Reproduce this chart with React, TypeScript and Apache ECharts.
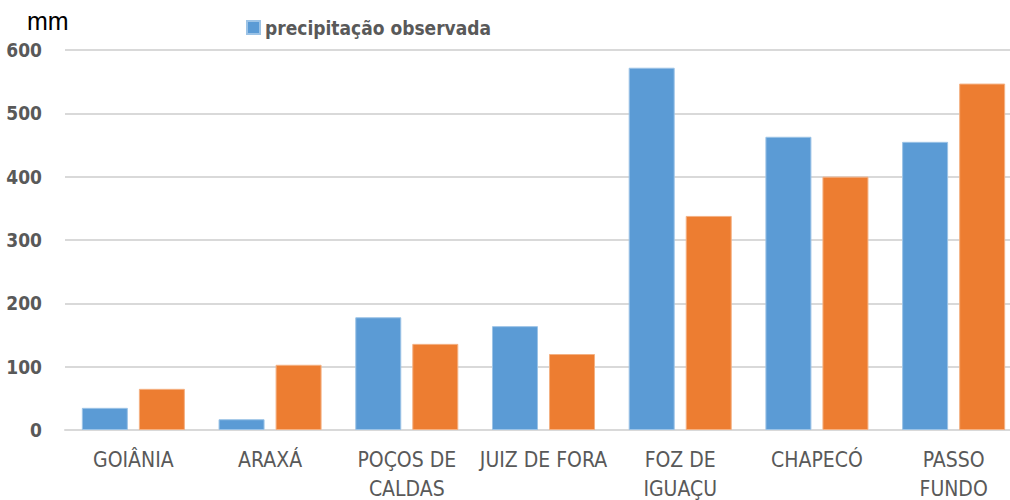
import React, { useEffect, useRef } from "react";
import * as echarts from "echarts";

const categories = ["GOIÂNIA", "ARAXÁ", "POÇOS DE\nCALDAS", "JUIZ DE FORA", "FOZ DE\nIGUAÇU", "CHAPECÓ", "PASSO\nFUNDO"];
const observada = [35, 17, 178, 164, 572, 463, 455];
const prevista = [65, 103, 136, 120, 338, 400, 547];
const yTicks = [0, 100, 200, 300, 400, 500, 600];

export default function App() {
  const ref = useRef<HTMLDivElement>(null);
  useEffect(() => {
    if (!ref.current) return;
    const chart = echarts.init(ref.current, null, { renderer: "svg" });
    const font = "'DejaVu Sans Condensed', 'Liberation Sans Narrow', 'Liberation Sans', sans-serif";
    chart.setOption({
      animation: false,
      grid: { left: 65, width: 957, top: 50, bottom: 70, outerBoundsMode: "none" },
      legend: {
        data: [{ name: "precipitação observada" }],
        left: 241,
        top: 13,
        itemWidth: 13,
        itemHeight: 13,
        itemGap: 5,
        icon: "rect",
        textStyle: { color: "#595959", fontSize: 19, fontWeight: "bold", fontFamily: font },
      },
      graphic: [
        { type: "text", left: 27, top: 8, style: { text: "mm", fontSize: 25, fill: "#000", fontFamily: "'Liberation Sans', Arial, sans-serif" } },
      ],
      xAxis: {
        type: "category",
        data: categories,
        axisLine: { lineStyle: { color: "#d9d9d9", width: 2 } },
        axisTick: { show: false },
        axisLabel: { color: "#595959", fontSize: 21, fontFamily: font, margin: 15, lineHeight: 29, interval: 0 },
      },
      yAxis: {
        type: "value",
        min: 0,
        max: 600,
        interval: 100,
        axisLine: { show: false },
        axisTick: { show: false },
        splitLine: { lineStyle: { color: "#d9d9d9", width: 2 } },
        axisLabel: {
          color: "#595959",
          fontSize: 19,
          fontWeight: "bold",
          fontFamily: font,
          margin: 23,
          customValues: yTicks,
        },
      },
      series: [
        {
          name: "precipitação observada",
          type: "bar",
          data: observada,
          barWidth: 46,
          barGap: "24%",
          itemStyle: { color: "#5B9BD5", borderColor: "#9cc3e6", borderWidth: 1 },
        },
        {
          name: "precipitação prevista",
          type: "bar",
          data: prevista,
          barWidth: 46,
          itemStyle: { color: "#ED7D31", borderColor: "#f4b183", borderWidth: 1 },
        },
      ],
    });
    return () => chart.dispose();
  }, []);
  return <div ref={ref} style={{ width: 1010, height: 500, position: "absolute", left: 0, top: 0 }} />;
}
